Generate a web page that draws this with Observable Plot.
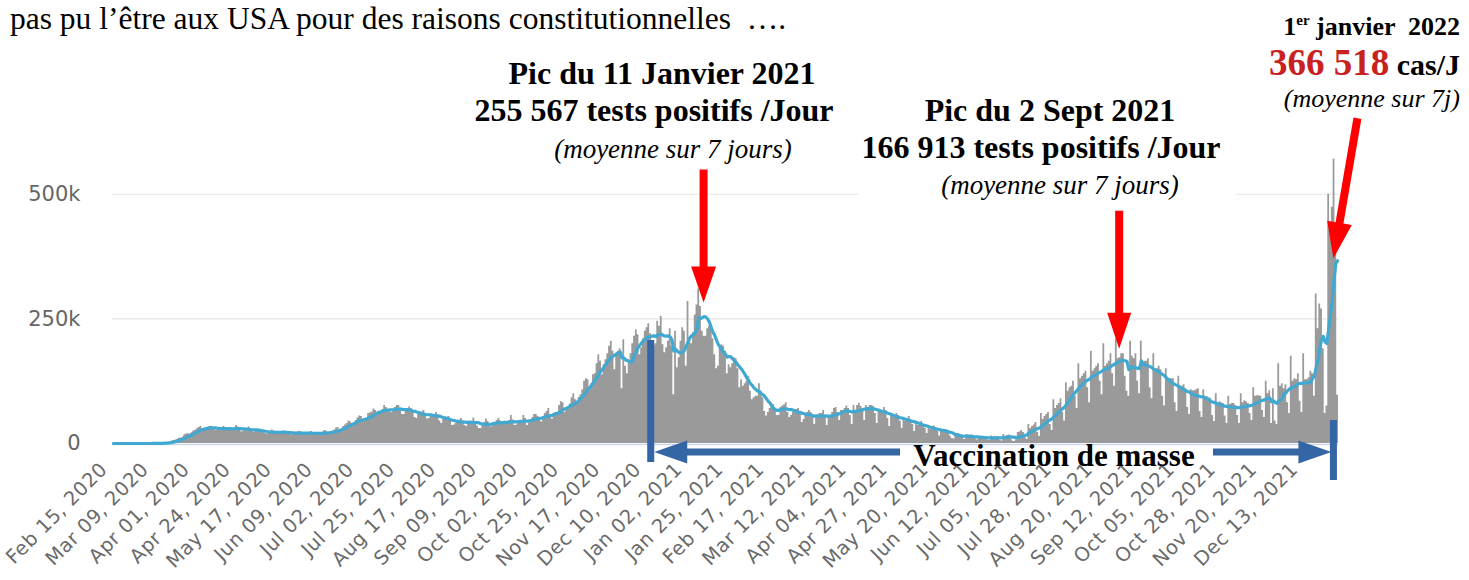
<!DOCTYPE html>
<html><head><meta charset="utf-8">
<script src="https://cdn.jsdelivr.net/npm/d3@7"></script>
<script src="https://cdn.jsdelivr.net/npm/@observablehq/plot@0.6"></script>
<style>
html,body{margin:0;padding:0;background:#fff;}
#chart{position:relative;width:1469px;height:580px;overflow:hidden;}
</style></head><body><div id="chart"></div>
<script>
// Daily new cases (thousands), one row per week Sat..Fri, starting Sat Feb 15 2020
const startDate = "2020-02-15";
const cases2020 = [
0,0,0,0,0,0,0,
0,0,0,0,0,0,0,
0.01,0.01,0.02,0.02,0.03,0.05,0.1,
0.1,0.12,0.18,0.27,0.41,0.5,0.65,
0.9,1.1,1.7,2.6,3.7,4.8,5.9,
7,8.3,10.8,10.5,12.8,17.6,18.9,
19.6,19.2,21.4,25.2,26.4,29.5,32.2,
34,25.8,29.6,30.8,32.4,34.1,34.6,
31,27,26,28,30,32,34,
32,27,27,26,29,32,36,
33,27,23,25,28,30,33,
29,25,23,24,25,28,27,
25,20,19,21,21,27,25,
24,19,21,21,22,25,24,
22,19,17,19,20,23,24,
24,19,18,19,20,22,24,
22,17,17,19,21,22,25,
26,19,18,23,25,27,31,
32,27,29,34,37,40,45,
43,40,41,46,51,55,54,
46,45,49,60,61,63,69,
66,60,62,64,68,76,72,
68,64,62,65,72,76,76,
70,58,58,65,70,73,70,
63,52,50,58,60,63,66,
58,49,50,56,55,56,62,
58,45,40,48,50,51,54,
47,36,37,40,45,47,50,
45,36,34,42,42,45,51,
44,35,30,30,38,42,49,
44,36,33,40,40,46,50,
45,38,38,41,40,46,56,
47,36,37,44,45,46,56,
50,36,41,46,52,58,58,
54,46,43,53,60,64,70,
57,49,58,62,63,76,84,
82,62,67,74,79,92,100,
88,82,93,98,108,125,130,
128,108,120,138,140,160,178,
165,138,158,168,180,195,205,
185,148,178,185,190,110,208,
155,140,162,180,200,215,228,
218,178,192,210,225,232,240,
220,190,195,200,245,235,255,
198,182,192,205,230,195,98,
225,152,172,205,232,225,155
];
// Sat Jan 2 2021 .. Sat Jan 1 2022
const cases2021 = [
285,210,200,222,258,278,310,
275,225,215,215,230,235,232,
210,178,150,155,190,198,195,
185,140,158,152,160,172,170,
150,112,128,115,120,125,135,
105,88,92,95,95,120,105,
92,64,55,62,70,74,78,
70,56,56,72,75,77,82,
62,52,56,62,66,68,70,
62,42,48,57,62,66,62,
52,38,52,56,60,60,66,
55,36,52,56,62,70,72,
62,46,66,66,70,75,70,
56,38,76,66,76,80,74,
66,46,76,72,76,76,74,
60,40,68,62,66,72,66,
50,34,56,54,56,60,56,
45,30,48,44,50,54,46,
38,24,40,36,40,44,36,
30,20,30,28,33,35,30,
24,15,24,25,25,28,24,
15,10,9,16,20,19,18,
12,8,15,14,15,17,15,
10,7,13,12,13,14,13,
7,6,15,12,14,13,14,
7,5,18,14,16,17,15,
5,4,7,22,23,26,22,
12,8,38,30,34,37,42,
22,14,60,48,54,58,62,
38,26,88,70,76,80,90,
62,45,122,105,112,115,125,
95,70,160,130,135,140,145,
112,82,185,145,150,155,160,
125,98,200,155,160,165,180,
140,115,210,170,172,180,180,
135,105,95,205,175,170,180,
125,100,205,160,165,165,170,
112,90,180,150,150,155,148,
95,75,150,130,130,130,130,
82,64,135,115,115,118,110,
72,58,108,106,106,108,110,
64,52,108,90,94,92,90,
56,44,100,80,84,82,80,
55,40,95,78,80,80,76,
56,40,100,82,86,84,80,
60,46,112,95,96,96,95,
66,52,125,100,106,40,110,
45,38,160,115,120,110,118,
82,60,175,125,130,128,140,
85,62,180,128,128,132,145,
140,95,300,230,280,270,190,
60,75,500,430,474,570,420,
97
];
const xTickLabels = ["Feb 15, 2020","Mar 09, 2020","Apr 01, 2020","Apr 24, 2020","May 17, 2020","Jun 09, 2020","Jul 02, 2020","Jul 25, 2020","Aug 17, 2020","Sep 09, 2020","Oct 02, 2020","Oct 25, 2020","Nov 17, 2020","Dec 10, 2020","Jan 02, 2021","Jan 25, 2021","Feb 17, 2021","Mar 12, 2021","Apr 04, 2021","Apr 27, 2021","May 20, 2021","Jun 12, 2021","Jul 05, 2021","Jul 28, 2021","Aug 20, 2021","Sep 12, 2021","Oct 05, 2021","Oct 28, 2021","Nov 20, 2021","Dec 13, 2021"];
const yTicks = [0, 250000, 500000];
const yTickLabels = ["0", "250k", "500k"];
const peakJan = {date: "2021-01-11", value: 255567};
const peakSep = {date: "2021-09-02", value: 166913};
const lastAvg = {date: "2021-12-31", value: 366518};
const vaccination = {start: "2020-12-14", end: "2021-12-31"};

const parse = d3.utcParse("%Y-%m-%d");
const t0 = parse(startDate);
const values = cases2020.concat(cases2021).map(v => v * 1000);
const daily = values.map((v, i) => ({
  start: d3.utcDay.offset(t0, i),
  mid: d3.utcHour.offset(d3.utcDay.offset(t0, i), 12),
  value: v
}));
// step outline of the daily columns (closing point at the end of the last day)
const steps = daily.map(d => ({t: d.start, value: d.value}))
  .concat([{t: d3.utcDay.offset(t0, daily.length), value: values[values.length - 1]}]);
const avg7 = daily.map((d, i) => ({mid: d.mid, value: d3.mean(daily.slice(Math.max(0, i - 6), i + 1), e => e.value)}));
const xDomain = [t0, d3.utcDay.offset(t0, daily.length)];
const tickParse = d3.utcParse("%b %d, %Y");
const xTicks = xTickLabels.map(s => ({date: tickParse(s), label: s}));
const yRows = yTicks.map((v, i) => ({v, label: yTickLabels[i]}));

const plot = Plot.plot({
  width: 1469, height: 580,
  marginLeft: 112, marginRight: 131, marginTop: 0, marginBottom: 137,
  style: {fontFamily: "DejaVu Sans", background: "#fff", overflow: "visible"},
  x: {type: "utc", domain: xDomain, axis: null},
  y: {domain: [0, 888700], axis: null},
  marks: [
    Plot.ruleY(yTicks.slice(1), {stroke: "#e6e6e6", strokeWidth: 1.2}),
    Plot.areaY(steps, {x: "t", y: "value", curve: "step-after", fill: "#9a9a9a"}),
    Plot.ruleY([0], {stroke: "#ccd6eb", strokeWidth: 1.5, dy: 1}),
    Plot.line(avg7, {x: "mid", y: "value", stroke: "#41a8d1", strokeWidth: 3.2}),
    Plot.text(yRows, {y: "v", text: "label", frameAnchor: "left", textAnchor: "end", dx: -32, fontSize: 21, fill: "#666"}),
    Plot.text(xTicks, {x: "date", text: "label", frameAnchor: "bottom", textAnchor: "end", rotate: -45, dx: -4, dy: 27, fontSize: 19.5, fill: "#6a6a6a"})
  ]
});
document.getElementById("chart").appendChild(plot);
// slightly wider tracking for the rotated date labels
const textGroups = d3.select(plot).selectAll('g[aria-label="text"]').nodes();
d3.select(textGroups[textGroups.length - 1]).style("letter-spacing", "0.5px");

// ---- annotations ----
const sx = plot.scale("x"), sy = plot.scale("y");
const X = s => sx.apply(typeof s === "string" ? parse(s) : s);
const Y = v => sy.apply(v);
const svg = d3.select(plot);
const g = svg.append("g");

function arrowPoly(x0, y0, x1, y1, w, L, W) {
  const dx = x1 - x0, dy = y1 - y0, len = Math.hypot(dx, dy);
  const ux = dx / len, uy = dy / len, nx = -uy, ny = ux;
  const bx = x1 - ux * L, by = y1 - uy * L;
  const p = [[x0 + nx * w / 2, y0 + ny * w / 2], [bx + nx * w / 2, by + ny * w / 2], [bx + nx * W / 2, by + ny * W / 2],
             [x1, y1], [bx - nx * W / 2, by - ny * W / 2], [bx - nx * w / 2, by - ny * w / 2], [x0 - nx * w / 2, y0 - ny * w / 2]];
  return "M" + p.map(q => q.join(",")).join("L") + "Z";
}

// white box behind the second peak's text (hides the 500k grid line there)
g.append("rect").attr("x", 858).attr("y", 92).attr("width", 378).attr("height", 108).attr("fill", "#fff");

// red arrows
const half = d => d3.utcHour.offset(parse(d), 12);
const a1x = X(half(peakJan.date)), a1y = Y(peakJan.value) - 13;
g.append("path").attr("d", arrowPoly(a1x, a1y - 133, a1x, a1y, 8, 36, 25)).attr("fill", "#ff0000");
const a2x = X(half(peakSep.date)) - 2, a2y = Y(peakSep.value) - 11;
g.append("path").attr("d", arrowPoly(a2x, a2y - 138, a2x, a2y, 8, 36, 24)).attr("fill", "#ff0000");
const a3x = X(lastAvg.date) - 1, a3y = Y(lastAvg.value) - 2;
g.append("path").attr("d", arrowPoly(a3x + 24, a3y - 140, a3x, a3y, 8, 36, 25)).attr("fill", "#ff0000");

// blue vaccination arrows
const blue = "#3465a4";
const vx0 = X(vaccination.start) - 2, vx1 = X(vaccination.end) - 1;
const ay = Y(0) + 9;
g.append("rect").attr("x", vx0 - 3.5).attr("y", Y(0) - 103).attr("width", 7).attr("height", 122).attr("fill", blue);
g.append("rect").attr("x", vx1 - 3.5).attr("y", Y(0) - 23).attr("width", 7).attr("height", 60).attr("fill", blue);
g.append("path").attr("d", arrowPoly(900, ay, vx0 + 3.5, ay, 7, 33, 23)).attr("fill", blue);
g.append("path").attr("d", arrowPoly(1213, ay, vx1 - 2, ay, 7, 33, 23)).attr("fill", blue);

// texts
const serif = "Liberation Serif, Times New Roman, serif";
function txt(x, y, anchor, size, weight, style, str, fill) {
  return g.append("text").attr("x", x).attr("y", y).attr("text-anchor", anchor)
    .attr("font-family", serif).attr("font-size", size).attr("font-weight", weight)
    .attr("font-style", style).attr("fill", fill || "#000").style("white-space", "pre").text(str);
}
txt(10, 29, "start", 31.5, "normal", "normal", "pas pu l\u2019être aux USA pour des raisons constitutionnelles  \u2026.");
txt(662, 84, "middle", 32, "bold", "normal", "Pic du 11 Janvier 2021");
txt(654, 121, "middle", 32, "bold", "normal", "255 567 tests positifs /Jour");
txt(673, 158, "middle", 27, "normal", "italic", "(moyenne sur 7 jours)");
txt(1050, 121, "middle", 32, "bold", "normal", "Pic du 2 Sept 2021");
txt(1041, 158, "middle", 32, "bold", "normal", "166 913 tests positifs /Jour");
txt(1060, 194, "middle", 27, "normal", "italic", "(moyenne sur 7 jours)");
txt(1054, 466, "middle", 31, "bold", "normal", "Vaccination de masse");

const t1 = txt(1460, 35, "end", 26, "bold", "normal", "1");
t1.append("tspan").attr("dy", -10).attr("font-size", 15).text("er");
t1.append("tspan").attr("dy", 10).text(" janvier  2022");
const t2 = g.append("text").attr("x", 1460).attr("y", 75).attr("text-anchor", "end")
  .attr("font-family", serif).attr("font-weight", "bold").style("white-space", "pre");
t2.append("tspan").attr("font-size", 37).attr("fill", "#c9211e").text("366 518");
t2.append("tspan").attr("font-size", 30).attr("fill", "#000").text(" cas/J");
txt(1460, 107, "end", 26, "normal", "italic", "(moyenne sur 7j)");
</script></body></html>
